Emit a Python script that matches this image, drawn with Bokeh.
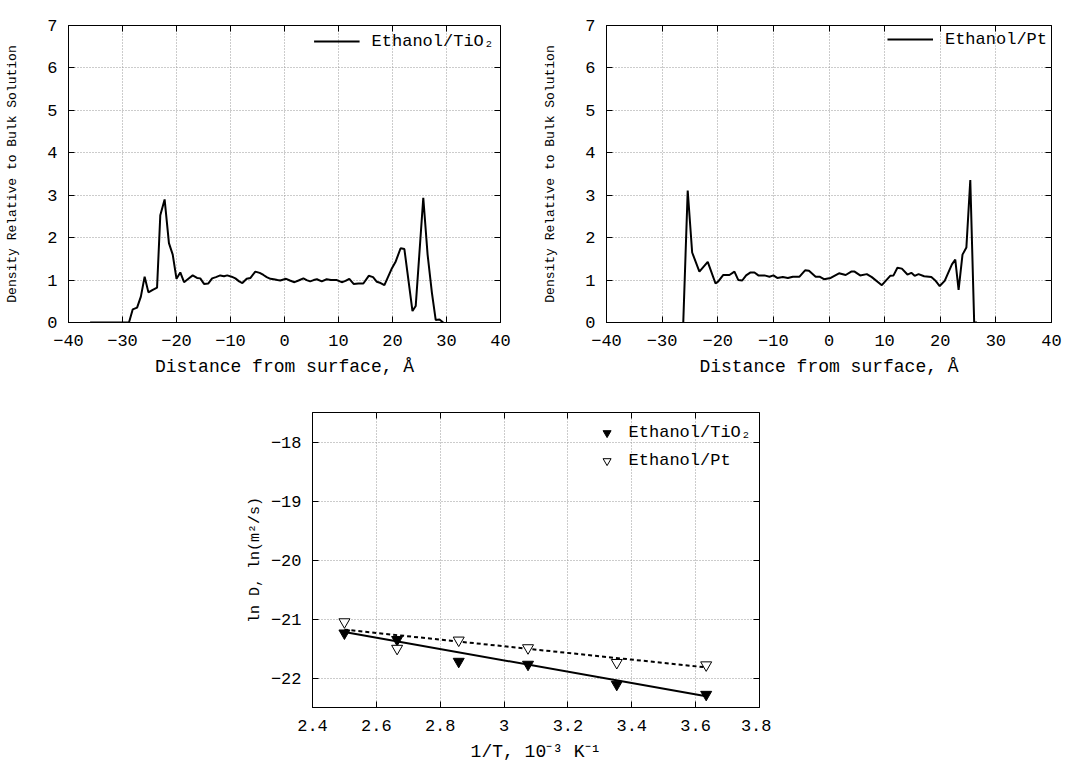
from bokeh.plotting import figure
from bokeh.models import LinearAxis, FixedTicker, Legend, LegendItem
from bokeh.layouts import column, row
from bokeh.embed import file_html
from bokeh.resources import INLINE

FONT = "Liberation Mono"

# ---------------- data ----------------
# Density profile, Ethanol/TiO2
tio2_dist = [-36.0, -33.0, -30.0, -28.8, -28.1, -27.3, -26.6, -25.9, -25.2, -24.4,
             -23.6, -23.0, -22.2, -21.4, -20.7, -20.0, -19.3, -18.6, -17.8, -17.0,
             -16.2, -15.6, -14.9, -14.1, -13.4, -12.7, -11.9, -11.2, -10.6, -9.8,
             -9.1, -8.4, -7.8, -7.0, -6.3, -5.4, -4.6, -3.9, -3.3, -2.6,
             -2.0, -1.3, -0.8, 0.3, 1.0, 1.85, 2.6, 3.5, 4.1, 4.75,
             5.4, 6.0, 6.9, 7.8, 8.6, 9.7, 10.6, 11.3, 12.0, 12.8,
             13.7, 14.6, 15.6, 16.4, 17.1, 17.8, 18.5, 19.9, 20.6, 21.5,
             22.2, 23.7, 24.3, 25.7, 26.5, 27.3, 28.0, 28.7, 29.4]
tio2_density = [0.0, 0.0, 0.0, 0.0, 0.31, 0.35, 0.61, 1.08, 0.71, 0.77,
                0.82, 2.53, 2.9, 1.87, 1.6, 1.03, 1.18, 0.95, 1.03, 1.11,
                1.05, 1.04, 0.91, 0.92, 1.04, 1.07, 1.11, 1.09, 1.11, 1.08,
                1.04, 0.97, 0.93, 1.03, 1.05, 1.2, 1.17, 1.12, 1.07, 1.03,
                1.02, 1.0, 0.99, 1.03, 0.99, 0.95, 0.99, 1.04, 1.0, 0.97,
                1.0, 1.02, 0.97, 1.02, 1.0, 1.0, 0.95, 0.98, 1.03, 0.91,
                0.92, 0.92, 1.1, 1.07, 0.96, 0.93, 0.88, 1.28, 1.44, 1.75,
                1.73, 0.27, 0.39, 2.94, 1.6, 0.7, 0.06, 0.07, 0.0]

# Density profile, Ethanol/Pt
pt_dist = [-26.2, -25.4, -24.6, -23.3, -21.8, -20.4, -19.9, -19.0, -17.9, -17.0,
           -16.3, -15.6, -14.9, -14.1, -13.4, -12.7, -11.6, -10.7, -10.0, -9.3,
           -8.3, -7.4, -6.5, -5.3, -4.3, -3.6, -2.4, -1.7, -0.9, 0.3,
           1.8, 3.0, 4.0, 4.6, 5.6, 6.8, 7.7, 9.5, 11.0, 11.6,
           12.3, 13.1, 14.1, 14.8, 15.4, 16.1, 17.1, 18.4, 19.1, 19.9,
           20.8, 22.1, 22.7, 23.3, 24.0, 24.7, 25.4, 26.1, 26.6]
pt_density = [0.0, 3.11, 1.65, 1.2, 1.43, 0.92, 0.97, 1.12, 1.12, 1.2,
              1.0, 0.99, 1.11, 1.18, 1.18, 1.11, 1.11, 1.08, 1.11, 1.05,
              1.07, 1.05, 1.08, 1.08, 1.23, 1.22, 1.08, 1.08, 1.02, 1.05,
              1.16, 1.12, 1.2, 1.2, 1.11, 1.14, 1.07, 0.88, 1.1, 1.11,
              1.29, 1.27, 1.13, 1.17, 1.1, 1.14, 1.09, 1.07, 0.99, 0.86,
              0.98, 1.37, 1.48, 0.77, 1.6, 1.77, 3.36, 0.0, 0.0]

# Diffusion (Arrhenius plot)
inv_T = [2.50, 2.665, 2.858, 3.075, 3.353, 3.633]
lnD_tio2 = [-21.24, -21.35, -21.72, -21.77, -22.11, -22.28]
lnD_pt = [-21.05, -21.50, -21.36, -21.49, -21.74, -21.78]
fit_invT = [2.50, 3.633]
fit_lnD_tio2 = [-21.22, -22.31]
fit_lnD_pt = [-21.18, -21.82]

# ticks
dist_ticks = [-40, -30, -20, -10, 0, 10, 20, 30, 40]
density_ticks = [0, 1, 2, 3, 4, 5, 6, 7]
invT_ticks = [2.4, 2.6, 2.8, 3.0, 3.2, 3.4, 3.6, 3.8]
invT_labels = ["2.4", "2.6", "2.8", "3", "3.2", "3.4", "3.6", "3.8"]
lnD_ticks = [-22, -21, -20, -19, -18]


def make_fig(width, height, left, right, top, bottom, xr, yr, xticks, yticks,
             xlabel, ylabel, ylabel_size, xoverrides=None, ylabel_standoff=20,
             xtick_standoff=12, xlabel_standoff=8):
    p = figure(width=width, height=height, x_range=xr, y_range=yr,
               output_backend="svg", toolbar_location=None,
               min_border_left=left, min_border_right=right,
               min_border_top=top, min_border_bottom=bottom)
    p.background_fill_color = "white"
    p.border_fill_color = "white"
    p.outline_line_color = "black"
    p.outline_line_width = 1

    for ax in (p.xaxis[0], p.yaxis[0]):
        ax.major_tick_in = 6
        ax.major_tick_out = 0
        ax.minor_tick_line_color = None
        ax.axis_line_color = "black"
        ax.major_label_text_font = FONT
        ax.major_label_text_font_size = "17px"
        ax.major_label_text_color = "black"
        ax.axis_label_text_font = FONT
        ax.axis_label_text_font_style = "normal"
        ax.axis_label_text_color = "black"
    p.xaxis[0].ticker = FixedTicker(ticks=xticks)
    p.yaxis[0].ticker = FixedTicker(ticks=yticks)
    if xoverrides:
        p.xaxis[0].major_label_overrides = xoverrides
    p.xaxis[0].major_label_standoff = xtick_standoff
    p.yaxis[0].major_label_standoff = 11
    p.xaxis[0].axis_label = xlabel
    p.xaxis[0].axis_label_text_font_size = "18px"
    p.xaxis[0].axis_label_standoff = xlabel_standoff
    p.yaxis[0].axis_label = ylabel
    p.yaxis[0].axis_label_text_font_size = ylabel_size
    p.yaxis[0].axis_label_standoff = ylabel_standoff

    # mirrored ticks (gnuplot style), labels not painted
    top_ax = LinearAxis(ticker=FixedTicker(ticks=xticks))
    right_ax = LinearAxis(ticker=FixedTicker(ticks=yticks))
    for ax in (top_ax, right_ax):
        ax.major_tick_in = 6
        ax.major_tick_out = 0
        ax.minor_tick_line_color = None
        ax.axis_line_color = None
        ax.major_label_text_font_size = "1px"
        ax.major_label_text_color = None
        ax.major_label_standoff = 0
    p.add_layout(top_ax, "above")
    p.add_layout(right_ax, "right")

    p.xgrid.ticker = FixedTicker(ticks=xticks)
    p.ygrid.ticker = FixedTicker(ticks=yticks)
    for g in (p.xgrid, p.ygrid):
        g.grid_line_color = "#999999"
        g.grid_line_dash = "1 2"
        g.grid_line_width = 1
    return p


def style_legend(lg):
    lg.location = "top_right"
    lg.border_line_color = None
    lg.background_fill_alpha = 0
    lg.label_text_font = FONT
    lg.label_text_font_size = "17px"
    lg.label_text_color = "black"
    lg.padding = 2
    lg.spacing = 3
    lg.label_standoff = 12


# ---------- top-left: TiO2 density ----------
p1 = make_fig(540, 385, 68, 40, 25, 63, (-40, 40), (0, 7), dist_ticks, density_ticks,
              "Distance from surface, Å", "Density Relative to Bulk Solution", "13px",
              ylabel_standoff=24)
r1 = p1.line(tio2_dist, tio2_density, line_color="black", line_width=2)
lg1 = Legend(items=[LegendItem(label="Ethanol/TiO₂", renderers=[r1])], glyph_width=46)
style_legend(lg1)
lg1.margin = 6
p1.add_layout(lg1)

# ---------- top-right: Pt density ----------
p2 = make_fig(527, 385, 62, 16, 15, 62, (-40, 40), (0, 7), dist_ticks, density_ticks,
              "Distance from surface, Å", "Density Relative to Bulk Solution", "13px",
              ylabel_standoff=24)
r2 = p2.line(pt_dist, pt_density, line_color="black", line_width=2)
lg2 = Legend(items=[LegendItem(label="Ethanol/Pt", renderers=[r2])], glyph_width=46)
style_legend(lg2)
lg2.margin = 4
p2.add_layout(lg2)

# ---------- bottom: Arrhenius plot ----------
p3 = make_fig(771, 381, 312, 12, 27, 59, (2.4, 3.8), (-22.5, -17.5), invT_ticks, lnD_ticks,
              "1/T, 10⁻³ K⁻¹", "ln D, ln(m²/s)", "15px",
              xoverrides={t: s for t, s in zip(invT_ticks, invT_labels)},
              ylabel_standoff=4, xtick_standoff=12, xlabel_standoff=8)
p3.line(fit_invT, fit_lnD_tio2, line_color="black", line_width=2)
p3.line(fit_invT, fit_lnD_pt, line_color="black", line_width=2, line_dash="4 3")
m1 = p3.scatter(inv_T, lnD_tio2, marker="inverted_triangle", size=11,
                fill_color="black", line_color="black")
m2 = p3.scatter(inv_T, lnD_pt, marker="inverted_triangle", size=11,
                fill_color="white", line_color="black", line_width=1)
lg3 = Legend(items=[LegendItem(label="Ethanol/TiO₂", renderers=[m1]),
                    LegendItem(label="Ethanol/Pt", renderers=[m2])], glyph_width=20)
style_legend(lg3)
lg3.margin = 8
lg3.label_height = 25
lg3.glyph_height = 25
p3.add_layout(lg3)

layout = column(row(p1, p2), p3)
open("out.html", "w").write(file_html(layout, INLINE))
